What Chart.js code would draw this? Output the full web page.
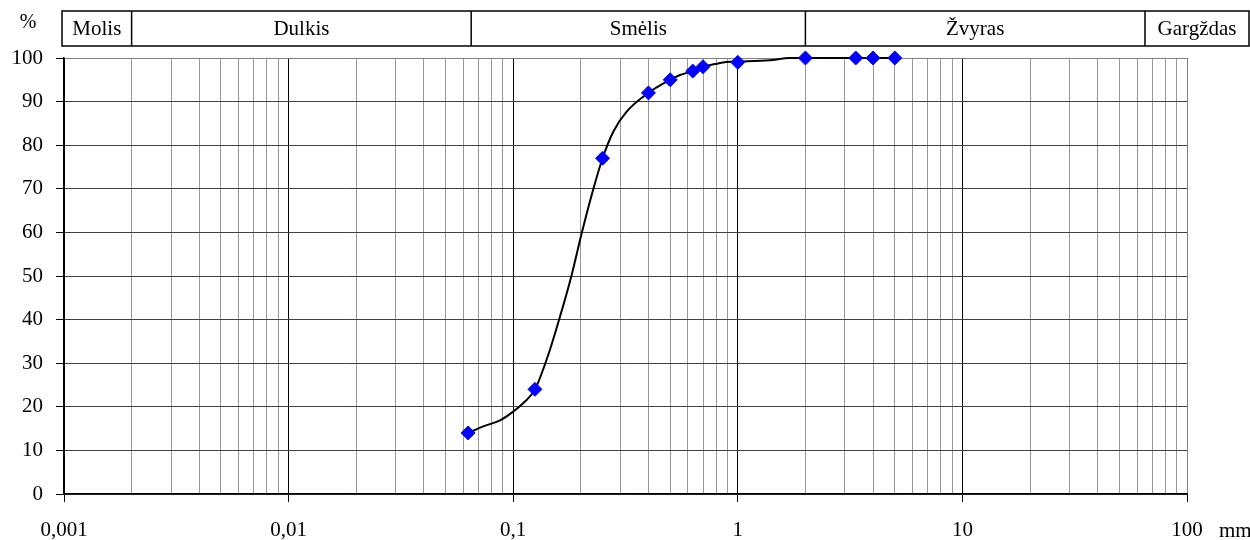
<!DOCTYPE html>
<html>
<head>
<meta charset="utf-8">
<script src="https://cdn.jsdelivr.net/npm/chart.js@4"></script>
<style>
  html,body{margin:0;padding:0;background:#fff}
  #wrap{width:1250px;height:540px;position:relative}
</style>
</head>
<body>
<div id="wrap"><canvas id="ch"></canvas></div>
<script>
// ===================== DATA =====================
// sietų matavimai (mm, %)
const sieveX=[0.063,0.125,0.25,0.4,0.5,0.63,0.7,1,2,3.35,4,5];
const sieveY=[14,24,77,92,95,97,98,99,100,100,100,100];
// kreivė nuskaityta nuo paveikslėlio
const curveX=[0.063,0.0736,0.0874,0.1,0.1128,0.125,0.143,0.1616,0.182,0.2018,0.2236,0.25,0.279,0.32,0.4,0.5,0.553,0.63,0.7,0.791,0.889,1,1.39,1.7,2,3.35,4,5];
const curveY=[14,15.5,16.9,18.9,21.2,24,31.8,40.7,50.2,59.8,68.6,77,83.1,87.7,92,95,96.1,97,98,98.6,99.1,99.2,99.5,100,100,100,100,100];
// ašys
const xMajor=[0.001,0.01,0.1,1,10,100];
const xTickLabels=['0,001','0,01','0,1','1','10','100'];
const yTicks=[0,10,20,30,40,50,60,70,80,90,100];
// frakcijų juosta
const fracBounds=[0.002,0.065,2,65];
const fracLabels=['Molis','Dulkis','Smėlis','Žvyras','Gargždas'];

const FONT="'Liberation Serif','Times New Roman',serif";
const isMajor=v=>Math.abs(Math.log10(v)-Math.round(Math.log10(v)))<1e-6;

// ── juosta viršuje + "%" ir "mm" ──
const headerPlugin={
  id:'header',
  afterDraw(chart){
    const c=chart.ctx,xs=chart.scales.x,a=chart.chartArea;
    const L=a.left-2,R=chart.width-1,T=11,B=46;
    c.save();
    c.strokeStyle='#000';c.lineWidth=1.5;
    c.strokeRect(L,T,R-L,B-T);
    const edges=[L,...fracBounds.map(v=>xs.getPixelForValue(v)),R];
    c.beginPath();
    for(let i=1;i<edges.length-1;i++){c.moveTo(edges[i],T);c.lineTo(edges[i],B);}
    c.stroke();
    c.fillStyle='#000';c.font='21px '+FONT;c.textAlign='center';c.textBaseline='alphabetic';
    fracLabels.forEach((t,i)=>c.fillText(t,(edges[i]+edges[i+1])/2,35));
    c.font='20px '+FONT;
    c.fillText('%',28,28);
    c.textAlign='left';
    c.font='21px '+FONT;
    c.fillText('mm',1219,537);
    c.restore();
  }
};

new Chart(document.getElementById('ch'),{
  type:'line',
  data:{datasets:[
    {label:'Sietai',data:sieveX.map((x,i)=>({x,y:sieveY[i]})),showLine:false,
      pointStyle:'rectRot',pointRadius:7,pointBackgroundColor:'#0000ff',pointBorderColor:'#0000ff',pointBorderWidth:1,clip:false,order:0},
    {label:'Kreivė',data:curveX.map((x,i)=>({x,y:curveY[i]})),borderColor:'#000',borderWidth:2,
      pointRadius:0,cubicInterpolationMode:'monotone',clip:false,order:1}
  ]},
  options:{
    responsive:true,maintainAspectRatio:false,animation:false,
    layout:{padding:{top:58,left:0,right:63,bottom:0}},
    plugins:{legend:{display:false},tooltip:{enabled:false}},
    scales:{
      x:{type:'logarithmic',min:0.001,max:100,
        afterBuildTicks(s){
          const t=[];
          for(let k=-3;k<2;k++) for(let m=1;m<10;m++) t.push({value:m*Math.pow(10,k)});
          t.push({value:100});
          s.ticks=t;
        },
        afterFit(s){s.height=46;},
        grid:{drawTicks:true,tickLength:8,lineWidth:1,
          color:ctx=>{const v=ctx.tick&&ctx.tick.value;if(v===undefined)return '#999';if(v>=99.9)return '#808080';return isMajor(v)?'#000':'#999';},
          tickColor:ctx=>{const v=ctx.tick&&ctx.tick.value;return v!==undefined&&isMajor(v)?'#000':'rgba(0,0,0,0)';}},
        border:{color:'#000',width:1.5},
        ticks:{autoSkip:false,maxRotation:0,padding:16,color:'#000',font:{family:FONT,size:21},
          callback:v=>{const i=xMajor.findIndex(m=>Math.abs(m-v)/m<1e-6);return i>=0?xTickLabels[i]:'';}}
      },
      y:{min:0,max:100,
        afterBuildTicks(s){s.ticks=yTicks.map(v=>({value:v}));},
        afterFit(s){s.width=64;},
        grid:{tickLength:8,lineWidth:1,tickColor:'#000',
          color:ctx=>ctx.tick&&ctx.tick.value===100?'#808080':'#404040'},
        border:{color:'#000',width:1.5},
        ticks:{padding:13,color:'#000',font:{family:FONT,size:21}}
      }
    }
  },
  plugins:[headerPlugin]
});
</script>
</body>
</html>
